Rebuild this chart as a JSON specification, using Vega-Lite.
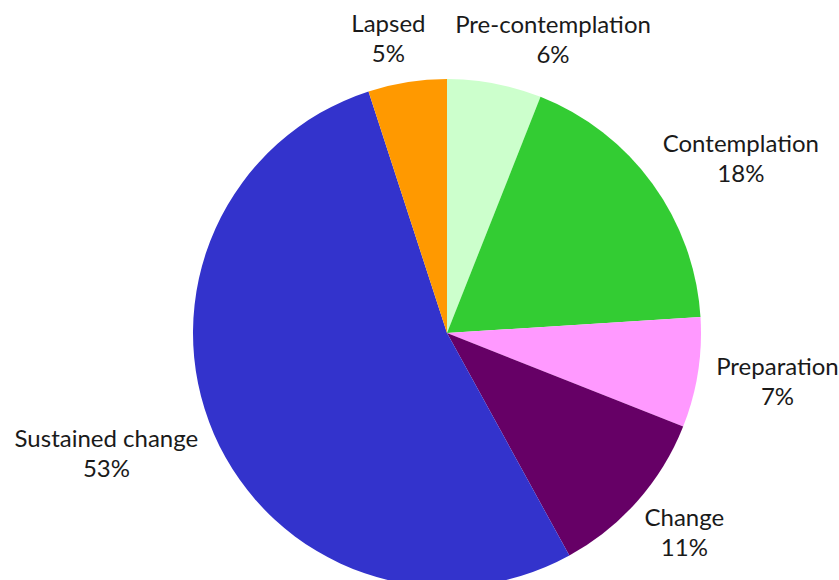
{
  "$schema": "https://vega.github.io/schema/vega-lite/v6.json",
  "autosize": "none",
  "width": 784,
  "height": 494,
  "padding": {"left": 55, "top": 86, "right": 0, "bottom": 0},
  "background": "white",
  "config": {"view": {"stroke": null}},
  "data": {
    "values": [
      {"Stage": "Pre-contemplation", "Percent": 6, "Order": 1},
      {"Stage": "Contemplation", "Percent": 18, "Order": 2},
      {"Stage": "Preparation", "Percent": 7, "Order": 3},
      {"Stage": "Change", "Percent": 11, "Order": 4},
      {"Stage": "Sustained change", "Percent": 53, "Order": 5},
      {"Stage": "Lapsed", "Percent": 5, "Order": 6}
    ]
  },
  "encoding": {
    "theta": {"field": "Percent", "type": "quantitative", "stack": true},
    "order": {"field": "Order", "type": "quantitative"}
  },
  "layer": [
    {
      "mark": {"type": "arc", "outerRadius": 254},
      "encoding": {
        "color": {
          "field": "Stage",
          "type": "nominal",
          "legend": null,
          "scale": {
            "domain": ["Pre-contemplation", "Contemplation", "Preparation", "Change", "Sustained change", "Lapsed"],
            "range": ["#ccffcc", "#33cc33", "#ff99ff", "#660066", "#3333cc", "#ff9900"]
          }
        }
      }
    },
    {
      "mark": {
        "type": "text",
        "radius": 270,
        "font": "Lato",
        "fontSize": 24,
        "lineHeight": 30,
        "color": "#1a1a1a",
        "align": "center",
        "baseline": "middle",
        "text": {"expr": "[datum.Stage, datum.Percent + '%']"},
        "dx": {"expr": "clamp(3*sin(PI*(datum.Percent_start+datum.Percent_end)/100), -1, 1) * length(datum.Stage) * 5.8"},
        "dy": {"expr": "-cos(PI*(datum.Percent_start+datum.Percent_end)/100) * 30 - 12"}
      }
    }
  ]
}
